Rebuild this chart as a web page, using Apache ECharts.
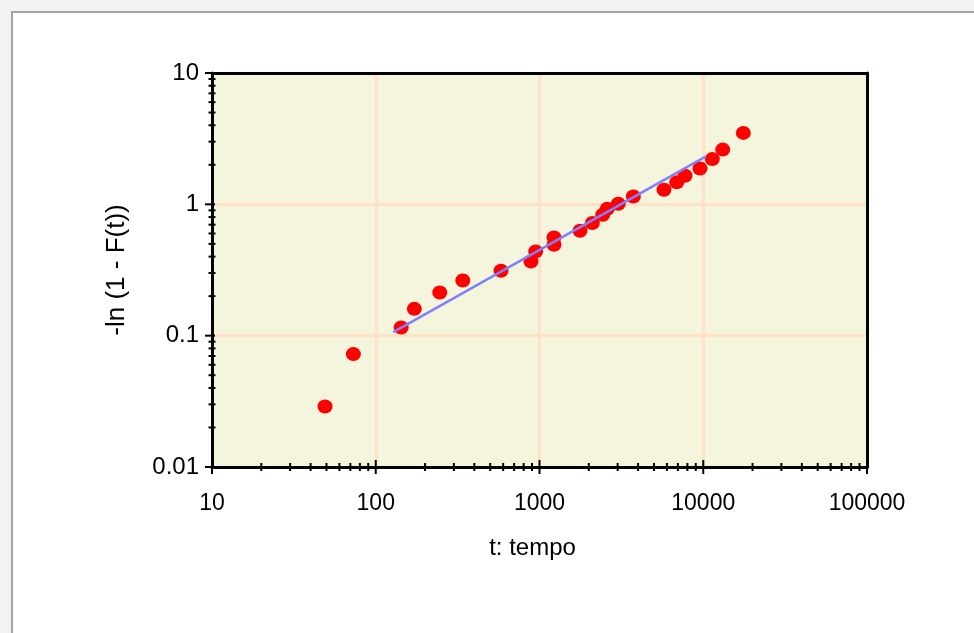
<!DOCTYPE html>
<html><head><meta charset="utf-8">
<script src="https://cdn.jsdelivr.net/npm/echarts@6/dist/echarts.min.js"></script>
<style>
html,body{margin:0;padding:0;background:#f2f2f2;width:974px;height:633px;overflow:hidden}
#frame{position:absolute;left:11px;top:11px;width:980px;height:640px;border-left:2px solid #a3a3a3;border-top:2px solid #a3a3a3;background:#fff}
#chart{position:absolute;left:0;top:0;width:974px;height:633px}
</style></head><body><div id="frame"></div><div id="chart"></div>
<script>
// Observed points: t (tempo) and -ln(1 - F(t))
const tValues = [49, 73, 143, 172, 246, 340, 582, 887, 948, 1226, 1226, 1767, 2102, 2432, 2595, 3029, 3741, 5757, 6886, 7740, 9550, 11360, 13150, 17570];
const yValues = [0.0289, 0.0724, 0.1155, 0.160, 0.213, 0.263, 0.312, 0.367, 0.438, 0.492, 0.560, 0.630, 0.720, 0.833, 0.926, 1.01, 1.148, 1.29, 1.47, 1.65, 1.876, 2.21, 2.61, 3.50];
// Fitted line end points
const fitT = [128, 10400];
const fitY = [0.1065, 2.316];
// Axis ticks
const xTickValues = [10, 100, 1000, 10000, 100000];
const xTickLabels = ['10', '100', '1000', '10000', '100000'];
const yTickValues = [0.01, 0.1, 1, 10];
const yTickLabels = ['0.01', '0.1', '1', '10'];
const xMinorTicks = [20,30,40,50,60,70,80,90, 200,300,400,500,600,700,800,900, 2000,3000,4000,5000,6000,7000,8000,9000, 20000,30000,40000,50000,60000,70000,80000,90000];
const yMinorTicks = [0.02,0.03,0.04,0.05,0.06,0.07,0.08,0.09, 0.2,0.3,0.4,0.5,0.6,0.7,0.8,0.9, 2,3,4,5,6,7,8,9];

const FONT = "'Liberation Sans', Arial, sans-serif";
function labelFor(values, labels) {
  return function (v) {
    let best = 0, bd = Infinity;
    for (let i = 0; i < values.length; i++) {
      const d = Math.abs(Math.log10(v) - Math.log10(values[i]));
      if (d < bd) { bd = d; best = i; }
    }
    return bd < 0.01 ? labels[best] : '';
  };
}

const xTickData = xTickValues.map(v => [v, 0.01, 1]).concat(xMinorTicks.map(v => [v, 0.01, 0]));
const yTickData = yTickValues.map(v => [10, v, 1]).concat(yMinorTicks.map(v => [10, v, 0]));

const frameAxis = {
  type: 'log', logBase: 10, z: 8,
  axisLine: {show: true, onZero: false, lineStyle: {color: '#000', width: 3}},
  axisTick: {show: false}, minorTick: {show: false},
  axisLabel: {show: false}, splitLine: {show: false}
};

const chart = echarts.init(document.getElementById('chart'), null, {renderer: 'canvas'});
chart.setOption({
  animation: false,
  grid: {
    left: 212, right: 107, top: 73, bottom: 166,
    show: true, backgroundColor: '#f5f4dc', borderColor: '#000', borderWidth: 0
  },
  xAxis: [{
    type: 'log', logBase: 10, min: 10, max: 100000, z: 0,
    name: 't: tempo', nameLocation: 'middle', nameGap: 69,
    nameTextStyle: {fontFamily: FONT, fontSize: 24, color: '#000', padding: [0, 14, 0, 0]},
    axisLine: {show: false},
    axisTick: {show: false},
    minorTick: {show: false},
    axisLabel: {fontFamily: FONT, fontSize: 23, color: '#000', margin: 25, showMinLabel: true, showMaxLabel: true,
      formatter: labelFor(xTickValues, xTickLabels)},
    splitLine: {show: true, lineStyle: {color: '#ffe2c6', width: 3}}
  }, Object.assign({}, frameAxis, {position: 'top', min: 10, max: 100000}),
     Object.assign({}, frameAxis, {position: 'bottom', min: 10, max: 100000})],
  yAxis: [{
    type: 'log', logBase: 10, min: 0.01, max: 10, z: 0,
    name: '-ln (1 - F(t))', nameLocation: 'middle', nameGap: 82,
    nameTextStyle: {fontFamily: FONT, fontSize: 26, color: '#000'},
    axisLine: {show: false},
    axisTick: {show: false},
    minorTick: {show: false},
    axisLabel: {fontFamily: FONT, fontSize: 24, color: '#000', margin: 13, showMinLabel: true, showMaxLabel: true,
      formatter: labelFor(yTickValues, yTickLabels)},
    splitLine: {show: true, lineStyle: {color: '#ffe2c6', width: 3}}
  }, Object.assign({}, frameAxis, {position: 'right', min: 0.01, max: 10}),
     Object.assign({}, frameAxis, {position: 'left', min: 0.01, max: 10})],
  series: [
    {
      type: 'scatter', name: 'data', z: 3, xAxisIndex: 0, yAxisIndex: 0,
      data: tValues.map((t, i) => [t, yValues[i]]),
      symbol: 'circle', symbolSize: [15, 14],
      itemStyle: {color: '#ff0000', opacity: 1},
      silent: true
    },
    {
      type: 'line', name: 'fit', z: 4, xAxisIndex: 0, yAxisIndex: 0,
      data: fitT.map((t, i) => [t, fitY[i]]),
      showSymbol: false, symbol: 'none',
      lineStyle: {color: '#8080ff', width: 2.5},
      silent: true
    },
    {
      type: 'custom', name: 'xticks', coordinateSystem: 'cartesian2d', xAxisIndex: 0, yAxisIndex: 0,
      clip: false, silent: true, z: 9,
      encode: {x: 0, y: 1},
      data: xTickData,
      renderItem: function (params, api) {
        const p = api.coord([api.value(0), api.value(1)]);
        const h = api.value(2) ? 7 : 4;
        return {type: 'line', shape: {x1: p[0], y1: p[1] - h, x2: p[0], y2: p[1] + h},
          style: {stroke: '#000', lineWidth: 2}};
      }
    },
    {
      type: 'custom', name: 'yticks', coordinateSystem: 'cartesian2d', xAxisIndex: 0, yAxisIndex: 0,
      clip: false, silent: true, z: 9,
      encode: {x: 0, y: 1},
      data: yTickData,
      renderItem: function (params, api) {
        const p = api.coord([api.value(0), api.value(1)]);
        const major = api.value(2);
        const x1 = major ? p[0] - 7 : p[0] - 3.5;
        const x2 = major ? p[0] + 3 : p[0] + 3.5;
        return {type: 'line', shape: {x1: x1, y1: p[1], x2: x2, y2: p[1]},
          style: {stroke: '#000', lineWidth: 2}};
      }
    }
  ]
});
</script>
</body></html>
